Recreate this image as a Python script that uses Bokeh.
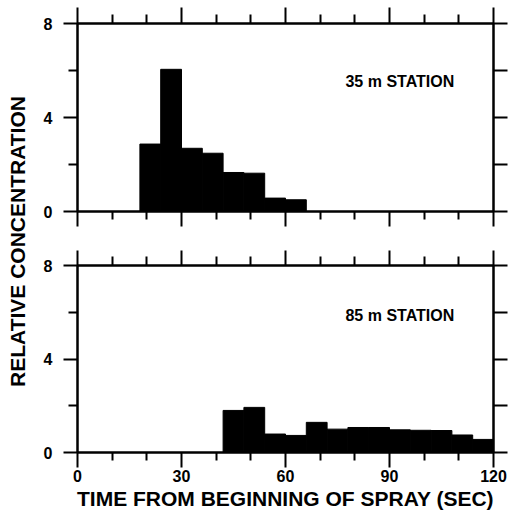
import math
from bokeh.plotting import figure
from bokeh.models import Range1d, LinearAxis, FixedTicker, Label, CustomJSTickFormatter
from bokeh.layouts import row, column
from bokeh.embed import file_html
from bokeh.resources import INLINE
from bokeh.core.properties import value

# ---- data ----
x_major = [0, 30, 60, 90, 120]
x_minor = [10, 20, 40, 50, 70, 80, 100, 110]
y_major = [0, 4, 8]
y_minor = [2, 6]
y_right = [0, 2, 4, 6, 8]

top_edges = [18, 24, 30, 36, 42, 48, 54, 60, 66]
top_vals = [2.87, 6.05, 2.69, 2.48, 1.66, 1.63, 0.57, 0.50]
top_name = "35 m STATION"

bot_edges = [42, 48, 54, 60, 66, 72, 78, 84, 90, 96, 102, 108, 114, 120]
bot_vals = [1.80, 1.93, 0.79, 0.73, 1.29, 1.00, 1.07, 1.07, 0.97, 0.95, 0.94, 0.75, 0.56]
bot_name = "85 m STATION"

x_title = "TIME FROM BEGINNING OF SPRAY (SEC)"
y_title = "RELATIVE CONCENTRATION"

FONT = "Liberation Sans"


def style_axis(ax, major_out, minor_out, labels=True):
    ax.axis_line_width = 2
    ax.axis_line_color = "black"
    ax.major_tick_line_width = 2
    ax.minor_tick_line_width = 2
    ax.major_tick_line_color = "black"
    ax.minor_tick_line_color = "black"
    ax.major_tick_in = 0
    ax.minor_tick_in = 0
    ax.major_tick_out = major_out
    ax.minor_tick_out = minor_out
    if labels:
        ax.major_label_text_font = FONT
        ax.major_label_text_font_style = "bold"
        ax.major_label_text_font_size = "16px"
        ax.major_label_text_color = "black"
    else:
        ax.formatter = CustomJSTickFormatter(code="return ''")
        ax.major_label_standoff = 0


def panel(height, border_top, border_bottom, edges, vals, name, name_y,
          top_tick, show_x):
    p = figure(width=476, height=height, x_range=Range1d(0, 120),
               y_range=Range1d(0, 8), output_backend="svg",
               toolbar_location=None, x_axis_location=None,
               y_axis_location=None, min_border_left=45,
               min_border_right=15, min_border_top=border_top,
               min_border_bottom=border_bottom)
    p.outline_line_color = "black"
    p.outline_line_width = 2
    p.background_fill_color = "white"
    p.border_fill_color = "white"

    p.quad(left=edges[:-1], right=edges[1:], bottom=0, top=vals,
           fill_color="black", line_color="black", line_width=1)

    xb = LinearAxis(ticker=FixedTicker(ticks=x_major, minor_ticks=x_minor))
    style_axis(xb, 15, 8, labels=show_x)
    if show_x:
        xb.major_label_standoff = 2
        xb.axis_label = x_title
        xb.axis_label_text_font = FONT
        xb.axis_label_text_font_style = "bold"
        xb.axis_label_text_font_size = "21px"
        xb.axis_label_text_color = "black"
        xb.axis_label_standoff = 2
    p.add_layout(xb, "below")

    xt = LinearAxis(ticker=FixedTicker(ticks=x_major, minor_ticks=x_minor))
    style_axis(xt, top_tick, 9, labels=False)
    p.add_layout(xt, "above")

    yl = LinearAxis(ticker=FixedTicker(ticks=y_major, minor_ticks=y_minor))
    style_axis(yl, 14, 9, labels=True)
    yl.major_label_standoff = 11
    p.add_layout(yl, "left")

    yr = LinearAxis(ticker=FixedTicker(ticks=y_right, minor_ticks=[]))
    style_axis(yr, 14, 0, labels=False)
    p.add_layout(yr, "right")

    p.grid.visible = False
    for g in list(p.center):
        if g.__class__.__name__ == "Grid":
            g.visible = False

    p.add_layout(Label(x=77.3, y=name_y, text=name, text_font=FONT,
                       text_font_style="bold", text_font_size="16px",
                       text_baseline="middle", text_align="left",
                       text_color="black"))
    return p


top = panel(238, 23, 27, top_edges, top_vals, top_name, 5.52, 16, False)
bot = panel(281, 27, 67, bot_edges, bot_vals, bot_name, 5.87, 15, True)

lab = figure(width=32, height=519, x_range=Range1d(0, 32),
             y_range=Range1d(0, 519), output_backend="svg",
             toolbar_location=None, x_axis_location=None,
             y_axis_location=None, min_border=0)
lab.outline_line_color = None
lab.grid.visible = False
for g in list(lab.center):
    if g.__class__.__name__ == "Grid":
        g.visible = False
lab.text(x=[17], y=[278], text=[y_title], angle=math.pi / 2,
         text_align="center", text_baseline="middle",
         text_font=value(FONT), text_font_style="bold",
         text_font_size="21px", text_color="black")

layout = row(lab, column(top, bot))
open("out.html", "w").write(file_html(layout, INLINE))
